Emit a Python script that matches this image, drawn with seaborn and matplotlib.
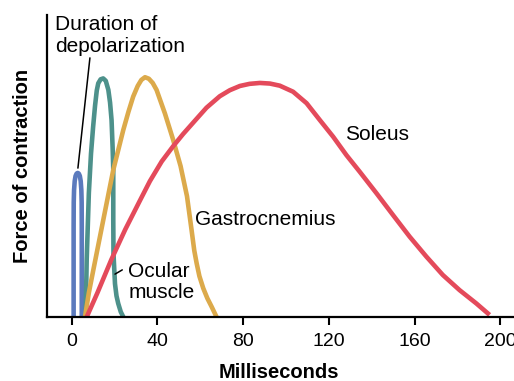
import matplotlib
matplotlib.use("Agg")
import matplotlib.pyplot as plt
import seaborn as sns
import pandas as pd

# ---- data (x in ms, y = relative force) ----
blue_x = [0.9, 0.9, 0.95, 1.1, 1.4, 1.8, 2.3, 2.8, 3.3, 3.8, 4.2, 4.5, 4.65, 4.7, 4.7]
blue_y = [0.0, 0.30, 0.38, 0.42, 0.45, 0.467, 0.475, 0.477, 0.475, 0.467, 0.45, 0.42, 0.38, 0.30, 0.0]

teal_x = [6.5, 7.0, 8.0, 9.0, 10.0, 10.9, 11.7, 12.4, 13.5, 14.7, 15.9, 17.1, 17.9, 18.6,
          19.1, 19.4, 19.4, 19.5, 20.2, 20.9, 21.7, 22.9, 24.1]
teal_y = [0.0, 0.19, 0.41, 0.54, 0.63, 0.70, 0.75, 0.774, 0.787, 0.79, 0.782, 0.752, 0.71, 0.652,
          0.56, 0.487, 0.32, 0.21, 0.11, 0.07, 0.045, 0.017, 0.0]

gold_x = [6.2, 8.0, 10.1, 14.7, 19.4, 24.1, 26.5, 28.7, 30.8, 32.5, 34.2, 36.0, 37.8, 39.6,
          43.5, 47.2, 50.8, 53.8, 55.9, 57.2, 58.3, 59.6, 61.4, 63.3, 65.3, 67.6]
gold_y = [0.0, 0.08, 0.156, 0.32, 0.487, 0.62, 0.68, 0.73, 0.765, 0.785, 0.794, 0.789, 0.775, 0.752,
          0.674, 0.59, 0.50, 0.40, 0.29, 0.22, 0.178, 0.135, 0.095, 0.062, 0.034, 0.0]

red_x = [7.0, 12.0, 18.5, 25.0, 31.8, 36.5, 42.0, 47.4, 52.0, 55.0, 58.5, 62.9, 69.1, 73.8,
         78.5, 83.0, 87.8, 92.5, 97.1, 103.3, 109.6, 115.8, 122.0, 128.2, 134.4, 142.2,
         149.9, 157.7, 165.5, 173.2, 181.0, 188.8, 195.0]
red_y = [0.0, 0.08, 0.19, 0.29, 0.385, 0.45, 0.515, 0.566, 0.606, 0.63, 0.658, 0.693, 0.731, 0.751,
         0.765, 0.772, 0.775, 0.773, 0.766, 0.746, 0.708, 0.652, 0.597, 0.536, 0.481, 0.41,
         0.338, 0.266, 0.2, 0.139, 0.089, 0.045, 0.007]

x_ticks = [0, 40, 80, 120, 160, 200]
x_label = "Milliseconds"
y_label = "Force of contraction"

colors = {"blue": "#5b7abd", "teal": "#4d918b", "gold": "#dcaa4b", "red": "#e44a5b"}

sns.set_theme(style="white")
plt.rcParams["font.family"] = ["Liberation Sans", "DejaVu Sans"]
plt.rcParams["text.color"] = "black"
plt.rcParams["axes.labelcolor"] = "black"
plt.rcParams["xtick.color"] = "black"
plt.rcParams["ytick.color"] = "black"

fig = plt.figure(figsize=(5.14, 3.81), dpi=100)
ax = fig.add_axes([46.5 / 514, 1 - 317 / 381, (514 - 46.5) / 514, (317 - 15) / 381])

curves = [("blue", blue_x, blue_y), ("teal", teal_x, teal_y),
          ("gold", gold_x, gold_y), ("red", red_x, red_y)]
for name, xs, ys in curves:
    df = pd.DataFrame({"ms": xs, "force": ys})
    sns.lineplot(data=df, x="ms", y="force", sort=False, estimator=None,
                 color=colors[name], linewidth=3.3, ax=ax,
                 solid_joinstyle="round", solid_capstyle="butt")

ax.set_xlim(-11.76, 206.4)
ax.set_ylim(0, 1)
ax.set_xticks(x_ticks)
ax.set_xticklabels([str(t) for t in x_ticks], fontsize=14)
ax.set_yticks([])

for s in ["top", "right"]:
    ax.spines[s].set_visible(False)
for s in ["left", "bottom"]:
    ax.spines[s].set_linewidth(1.6)
    ax.spines[s].set_color("black")
ax.tick_params(axis="x", direction="out", length=5.5, width=1.5, color="black",
               labelcolor="black", pad=6, bottom=True)

ax.set_xlabel(x_label, fontsize=14.5, fontweight="bold", color="black")
ax.set_ylabel(y_label, fontsize=14.5, fontweight="bold", color="black")
ax.xaxis.set_label_coords(0.497, -0.185)
ax.xaxis.label.set_va("center")
ax.yaxis.set_label_coords(-0.0524, 0.5)
ax.yaxis.label.set_va("center")

# annotations
fs = 15
ax.text(-7.8, 0.950, "Duration of", fontsize=fs, va="baseline", ha="left", color="black")
ax.text(-7.8, 0.878, "depolarization", fontsize=fs, va="baseline", ha="left", color="black")
ax.plot([2.9, 8.5], [0.493, 0.858], color="black", linewidth=1.1)
ax.text(26.4, 0.133, "Ocular", fontsize=fs, va="baseline", ha="left", color="black")
ax.text(26.4, 0.062, "muscle", fontsize=fs, va="baseline", ha="left", color="black")
ax.plot([20.2, 23.6], [0.142, 0.156], color="black", linewidth=1.1)
ax.text(57.6, 0.305, "Gastrocnemius", fontsize=fs, va="baseline", ha="left", color="black")
ax.text(127.4, 0.586, "Soleus", fontsize=fs, va="baseline", ha="left", color="black")

fig.savefig("out.png", dpi=100)
